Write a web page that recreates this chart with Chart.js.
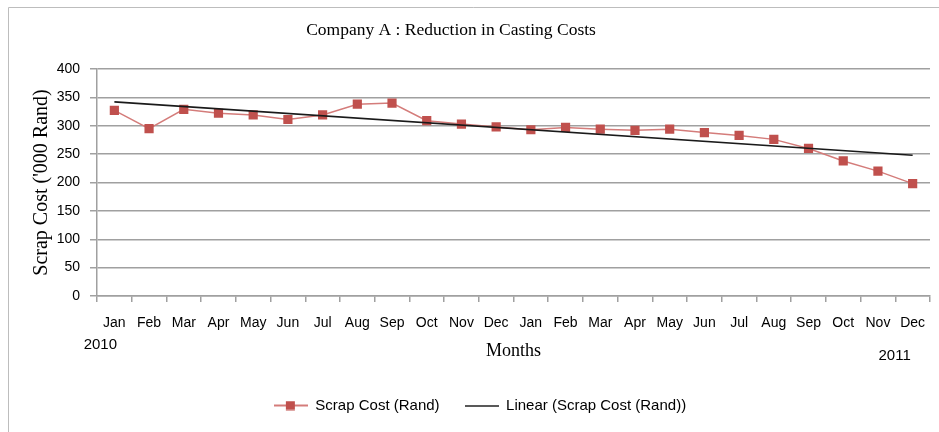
<!DOCTYPE html>
<html lang="en">
<head>
    <meta charset="UTF-8">
    <title>Company A : Reduction in Casting Costs</title>
    <style>
        html, body {
            margin: 0;
            padding: 0;
            background: #fff;
        }
        .chart-container {
            position: relative;
            width: 939px;
            height: 432px;
        }
    </style>
</head>
<body>
    <div class="chart-container">
        <canvas id="costChart" width="939" height="432"></canvas>
    </div>

    <script src="https://cdn.jsdelivr.net/npm/chart.js"></script>
    <script>
        // Monthly scrap cost, Jan 2010 - Dec 2011 ('000 Rand)
        const months = ["Jan", "Feb", "Mar", "Apr", "May", "Jun", "Jul", "Aug", "Sep", "Oct", "Nov", "Dec",
                        "Jan", "Feb", "Mar", "Apr", "May", "Jun", "Jul", "Aug", "Sep", "Oct", "Nov", "Dec"];
        const scrapCost = [327, 295, 329, 322, 319, 311, 319, 338, 340, 309, 303, 298,
                           293, 297, 294, 292, 294, 288, 283, 276, 260, 238, 220, 198];
        // Excel trendline: value at first and last month
        const trendEnds = [342, 248];
        const yearLabels = ["2010", "2011"];
        const yTicks = [0, 50, 100, 150, 200, 250, 300, 350, 400];
        const chartTitle = 'Company A : Reduction in Casting Costs';

        const RED = '#C0504D';
        const RED_LINE = '#D47C7A';
        const GRID = '#A0A0A0';

        const trendData = months.map((m, i) => {
            if (i === 0) return trendEnds[0];
            if (i === months.length - 1) return trendEnds[1];
            return null;
        });

        // legend swatches: line with square marker, plain black line
        function makeSwatch(withMarker, color) {
            const c = document.createElement('canvas');
            c.width = 34;
            c.height = withMarker ? 10 : 2;
            const g = c.getContext('2d');
            g.strokeStyle = withMarker ? RED_LINE : color;
            g.lineWidth = withMarker ? 2 : 1.6;
            g.beginPath();
            g.moveTo(0, c.height / 2);
            g.lineTo(34, c.height / 2);
            g.stroke();
            if (withMarker) {
                g.fillStyle = RED;
                g.fillRect(12, 0.5, 9, 9);
            }
            return c;
        }
        const swatches = [makeSwatch(true), makeSwatch(false, '#222')];

        // outer frame, chart title (sits left of centre in the original) and year captions
        const extras = {
            id: 'extras',
            beforeDraw(chart) {
                const ctx = chart.ctx;
                ctx.save();
                ctx.strokeStyle = '#BDBDBD';
                ctx.lineWidth = 1;
                ctx.beginPath();
                ctx.moveTo(8.5, 432);
                ctx.lineTo(8.5, 7.5);
                ctx.lineTo(939, 7.5);
                ctx.stroke();
                ctx.restore();
            },
            afterDraw(chart) {
                const ctx = chart.ctx;
                const x = chart.scales.x;
                ctx.save();
                ctx.fillStyle = '#000';
                ctx.textAlign = 'center';
                ctx.textBaseline = 'middle';
                ctx.font = '17.5px "Liberation Serif", "Times New Roman", serif';
                ctx.fillText(chartTitle, 451, 30);
                ctx.font = '15px "Liberation Sans", Arial, sans-serif';
                ctx.fillText(yearLabels[0], x.getPixelForValue(0) - 14, 345);
                ctx.fillText(yearLabels[1], x.getPixelForValue(months.length - 1) - 18, 356);
                ctx.restore();
            }
        };

        const ctx = document.getElementById('costChart').getContext('2d');
        new Chart(ctx, {
            type: 'line',
            data: {
                labels: months,
                datasets: [
                    {
                        label: 'Scrap Cost (Rand)',
                        data: scrapCost,
                        borderColor: RED_LINE,
                        backgroundColor: RED,
                        borderWidth: 1.5,
                        pointStyle: 'rect',
                        pointRadius: 6.5,
                        pointBorderWidth: 0,
                        pointBackgroundColor: RED,
                        pointHoverRadius: 6.5,
                        tension: 0,
                        fill: false,
                        order: 2
                    },
                    {
                        label: 'Linear (Scrap Cost (Rand))',
                        data: trendData,
                        borderColor: '#1a1a1a',
                        borderWidth: 1.6,
                        pointRadius: 0,
                        spanGaps: true,
                        fill: false,
                        order: 1
                    }
                ]
            },
            options: {
                responsive: false,
                animation: false,
                layout: {
                    padding: { left: 30, right: 9, top: 69, bottom: 9 }
                },
                plugins: {
                    title: { display: false },
                    legend: {
                        display: true,
                        position: 'bottom',
                        labels: {
                            usePointStyle: true,
                            pointStyleWidth: 34,
                            padding: 25,
                            color: '#000',
                            font: { family: '"Liberation Sans", Arial, sans-serif', size: 15 },
                            sort: (a, b) => a.datasetIndex - b.datasetIndex,
                            generateLabels(chart) {
                                const items = Chart.defaults.plugins.legend.labels.generateLabels(chart);
                                items.forEach(it => { it.pointStyle = swatches[it.datasetIndex]; });
                                return items;
                            }
                        }
                    },
                    tooltip: { enabled: false }
                },
                scales: {
                    x: {
                        offset: true,
                        grid: {
                            offset: true,
                            drawOnChartArea: false,
                            drawTicks: true,
                            tickLength: 6,
                            color: GRID,
                            lineWidth: 1.5
                        },
                        border: { color: GRID, width: 1.5 },
                        ticks: {
                            color: '#000',
                            padding: 13,
                            maxRotation: 0,
                            autoSkip: false,
                            font: { family: '"Liberation Sans", Arial, sans-serif', size: 14 }
                        },
                        title: {
                            display: true,
                            text: 'Months',
                            color: '#000',
                            font: { family: '"Liberation Serif", "Times New Roman", serif', size: 18 },
                            padding: { top: 0, bottom: 11 }
                        },
                        afterFit(scale) {
                            scale.height = 77;
                        }
                    },
                    y: {
                        min: 0,
                        max: 400,
                        afterBuildTicks(scale) {
                            scale.ticks = yTicks.map(v => ({ value: v }));
                        },
                        grid: {
                            color: GRID,
                            lineWidth: 1.5,
                            tickLength: 7
                        },
                        border: { color: GRID, width: 1.5 },
                        ticks: {
                            color: '#000',
                            padding: 10,
                            font: { family: '"Liberation Sans", Arial, sans-serif', size: 14 }
                        },
                        title: {
                            display: true,
                            text: "Scrap Cost ('000 Rand)",
                            color: '#000',
                            font: { family: '"Liberation Serif", "Times New Roman", serif', size: 20 },
                            padding: { top: 0, bottom: 0 }
                        },
                        afterFit(scale) {
                            scale.width = 67;
                        }
                    }
                }
            },
            plugins: [extras]
        });
    </script>
</body>
</html>
